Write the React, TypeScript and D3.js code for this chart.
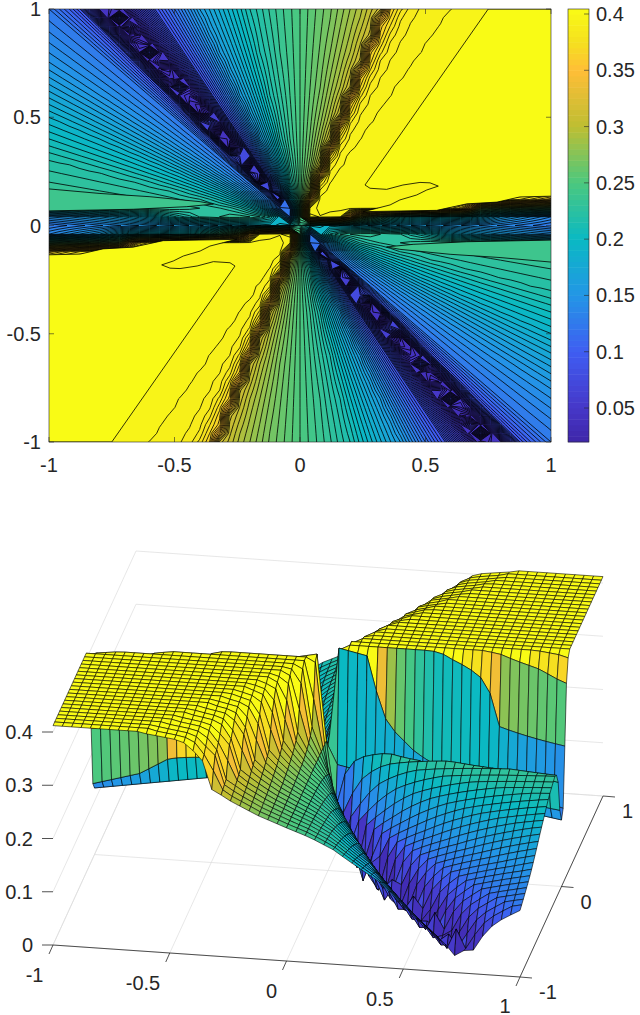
import React from 'react';
import * as d3 from 'd3';

// value read along the frame, by ray angle (deg) - the field repeats every 180 deg
const rayAngles = [0, 4.57, 5.2, 6.45, 6.8, 7.3, 7.8, 8.4, 9.5, 10.5, 58, 58.8, 65, 67.2, 68.7, 70.2, 71.5, 71.65, 74, 76, 78.7, 82.8, 90, 95.7, 101.3, 111.8, 121, 124, 125.5, 126.1, 126.5, 126.87, 127.24, 127.6, 128.2, 129.5, 130.4, 132, 135, 143, 153.4, 163, 171.5, 174.3, 175.4, 177.7, 180];
const rayValues = [0.2, 0.25, 0.26, 0.28, 0.36, 0.372, 0.38, 0.385, 0.394, 0.397, 0.397, 0.395, 0.39, 0.385, 0.375, 0.365, 0.36, 0.315, 0.305, 0.295, 0.285, 0.27, 0.25, 0.235, 0.215, 0.16, 0.082, 0.055, 0.035, 0.028, 0.06, 0.075, 0.042, 0.03, 0.036, 0.06, 0.08, 0.1, 0.125, 0.15, 0.19, 0.22, 0.235, 0.225, 0.21, 0.15, 0.13];
const centreValue = 0.235;

// the rows next to y = 0 do not follow the rays, read along |x|
const row0Knots = [0.04, 0.5, 1];
const row0Values = [0.2, 0.16, 0.125];
const row4Knots = [0.04, 0.16, 0.18, 0.22, 0.26, 0.37, 0.44, 0.67, 0.8, 1];
const row4Values = [0.397, 0.39, 0.372, 0.3, 0.27, 0.225, 0.208, 0.198, 0.165, 0.14];

const colorStops = [0.02, 0.05, 0.1, 0.15, 0.2, 0.25, 0.3, 0.35, 0.375, 0.405];
const colorValues = ['#3e26a8', '#4637c8', '#3f5df2', '#2396e6', '#0ab9c3', '#4bc87f', '#bebe32', '#ffbe37', '#f5e01f', '#f9fb15'];

const ticks2d = [-1, -0.5, 0, 0.5, 1];
const colorTicks = [0.05, 0.1, 0.15, 0.2, 0.25, 0.3, 0.35, 0.4];
const zTicks = [0, 0.1, 0.2, 0.3, 0.4];
const yTicks3d = [-1, 0, 1];

// the two contours in the flat yellow and teal areas that are not rays
const plateauOutline: [number, number][] = [
  [0.75, 1], [1.02, 1], [1.02, 0.136], [0.876, 0.132], [0.785, 0.108], [0.665, 0.1], [0.545, 0.07], [0.252, 0.064],
  [0.305, 0.079], [0.359, 0.095], [0.398, 0.118], [0.465, 0.141], [0.505, 0.164], [0.551, 0.182], [0.518, 0.197],
  [0.478, 0.199], [0.41, 0.187], [0.345, 0.167], [0.279, 0.172], [0.259, 0.187],
];
const tealOutline: [number, number][] = [
  [-1.02, 0.171], [-0.797, 0.148], [-0.598, 0.133], [-0.398, 0.11], [-0.345, 0.099], [-0.451, 0.087], [-0.664, 0.075], [-1.02, 0.067],
];

const gridAxis = d3.range(51).map(i => Math.round((-1 + 0.04 * i) * 100) / 100);
const levels = [...d3.range(0.0225, 0.09, 0.0025), ...d3.range(0.09, 0.4, 0.005)];
const barLevels = d3.range(0.02, 0.4, 0.005);

const rayScale = d3.scaleLinear<number>().domain(rayAngles).range(rayValues);
const row0Scale = d3.scaleLinear<number>().domain(row0Knots).range(row0Values);
const row4Scale = d3.scaleLinear<number>().domain(row4Knots).range(row4Values);
const color = d3.scaleLinear<string>().domain(colorStops).range(colorValues).interpolate(d3.interpolateRgb).clamp(true);

const fieldAt = (x: number, y: number) => {
  if (x === 0 && y === 0) return centreValue;
  if (y === 0) return row0Scale(Math.abs(x));
  if (x !== 0 && x * y > 0 && Math.abs(y) === 0.04) return row4Scale(Math.abs(x));
  let a = (Math.atan2(y, x) * 180) / Math.PI;
  if (a < 0) a += 180;
  return rayScale(a);
};

const field = gridAxis.map(y => gridAxis.map(x => fieldAt(x, y)));

// contour panel
const xScale = d3.scaleLinear().domain([-1, 1]).range([49, 551]);
const yScale = d3.scaleLinear().domain([-1, 1]).range([442, 9]);
const barScale = d3.scaleLinear().domain([0.05, 0.4]).range([408, 14]);
const gridToData = d3.scaleLinear().domain([0.5, 50.5]).range([-1, 1]);

const contourPath = d3.geoPath(
  d3.geoTransform({
    point(px: number, py: number) {
      (this as any).stream.point(xScale(gridToData(px)), yScale(gridToData(py)));
    },
  })
);
const bands = d3.contours().size([51, 51]).thresholds(levels)(field.flat());

const outlineLine = d3.line<[number, number]>().x(d => xScale(d[0])).y(d => yScale(d[1])).curve(d3.curveLinearClosed);
const mirrored = (pts: [number, number][]) => pts.map(d => [-d[0], -d[1]] as [number, number]);

// surface panel: orthographic view
const xAlong = d3.scaleLinear().domain([-1, 1]).range([0, 467]);
const xDrop = d3.scaleLinear().domain([-1, 1]).range([0, 32]);
const yAlong = d3.scaleLinear().domain([-1, 1]).range([0, 83]);
const yRise = d3.scaleLinear().domain([-1, 1]).range([0, 181]);
const zRise = d3.scaleLinear().domain([0, 0.4]).range([0, 213]);
// the plateau stands a little above 0.4 in the surface view
const surfaceLift = d3.scaleLinear().domain([0, 0.37, 0.397]).range([0, 0.37, 0.412]);
const project = (x: number, y: number, z: number): [number, number] => [
  53 + xAlong(x) + yAlong(y),
  945 + xDrop(x) - yRise(y) - zRise(z),
];
const segment = (a: [number, number], b: [number, number]) => `M${a[0]},${a[1]}L${b[0]},${b[1]}`;

// far rows first, so nearer cells paint over them
const quads: { d: string; fill: string }[] = [];
for (let j = gridAxis.length - 2; j >= 0; j--) {
  for (let i = 0; i < gridAxis.length - 1; i++) {
    const x0 = gridAxis[i];
    const x1 = gridAxis[i + 1];
    const y0 = gridAxis[j];
    const y1 = gridAxis[j + 1];
    const corners = [
      project(x0, y0, surfaceLift(field[j][i])),
      project(x1, y0, surfaceLift(field[j][i + 1])),
      project(x1, y1, surfaceLift(field[j + 1][i + 1])),
      project(x0, y1, surfaceLift(field[j + 1][i])),
    ];
    const c = field[j][i];
    quads.push({ d: 'M' + corners.join('L') + 'Z', fill: c >= 0.385 ? colorValues[9] : color(c) });
  }
}

const tickColor = '#262626';
const gridColor = '#dcdcdc';
const fontFamily = '"Liberation Sans", Arial, sans-serif';

export default function App() {
  return (
    <svg width={640} height={1015} style={{ position: 'absolute', left: 0, top: 0 }} fontFamily={fontFamily} fontSize={20} fill={tickColor}>
      <defs>
        <clipPath id="frame">
          <rect x={49} y={9} width={502} height={433} />
        </clipPath>
      </defs>

      <g clipPath="url(#frame)">
        <rect x={49} y={9} width={502} height={433} fill={color(0.02)} />
        {bands.map(b => (
          <path key={b.value} d={contourPath(b) || ''} fill={color(b.value + 0.0025)} stroke="#000" strokeWidth={0.8} />
        ))}
        {[plateauOutline, mirrored(plateauOutline)].map((pts, i) => (
          <path key={i} d={outlineLine(pts) || ''} fill={color(0.405)} stroke="#000" strokeWidth={0.8} />
        ))}
        {[tealOutline, mirrored(tealOutline)].map((pts, i) => (
          <path key={i} d={outlineLine(pts) || ''} fill={color(0.24)} stroke="#000" strokeWidth={0.8} />
        ))}
      </g>
      <rect x={49} y={9} width={502} height={433} fill="none" stroke={tickColor} strokeWidth={0.6} />
      {ticks2d.map(t => (
        <g key={t}>
          <line x1={xScale(t)} x2={xScale(t)} y1={442} y2={437} stroke={tickColor} strokeWidth={0.6} />
          <line x1={xScale(t)} x2={xScale(t)} y1={9} y2={14} stroke={tickColor} strokeWidth={0.6} />
          <line x1={49} x2={54} y1={yScale(t)} y2={yScale(t)} stroke={tickColor} strokeWidth={0.6} />
          <line x1={551} x2={546} y1={yScale(t)} y2={yScale(t)} stroke={tickColor} strokeWidth={0.6} />
          <text x={xScale(t)} y={472} textAnchor="middle">{t}</text>
          <text x={41} y={yScale(t) + 7} textAnchor="end">{t}</text>
        </g>
      ))}

      {[...barLevels, 0.4].map(l => {
        const top = l >= 0.4 ? 9 : barScale(Math.min(l + 0.005, 0.4));
        return <rect key={l} x={568} y={top} width={21} height={barScale(l) - top + 0.5} fill={color(l + 0.0025)} />;
      })}
      <rect x={568} y={9} width={21} height={433} fill="none" stroke={tickColor} strokeWidth={0.6} />
      {colorTicks.map(t => (
        <g key={t}>
          <line x1={589} x2={584} y1={barScale(t)} y2={barScale(t)} stroke={tickColor} strokeWidth={0.6} />
          <text x={596} y={barScale(t) + 7}>{t}</text>
        </g>
      ))}

      <g stroke={gridColor} strokeWidth={0.7} fill="none">
        {ticks2d.map(t => (
          <path key={t} d={segment(project(t, -1, 0), project(t, 1, 0))} />
        ))}
        {yTicks3d.map(t => (
          <path key={t} d={segment(project(-1, t, 0), project(1, t, 0))} />
        ))}
        {zTicks.map(t => (
          <g key={t}>
            <path d={segment(project(-1, -1, t), project(-1, 1, t))} />
            <path d={segment(project(-1, 1, t), project(1, 1, t))} />
          </g>
        ))}
      </g>

      <g stroke={tickColor} strokeWidth={0.8}>
        <path d={segment(project(-1, -1, 0), project(1, -1, 0))} />
        <path d={segment(project(1, -1, 0), project(1, 1, 0))} />
        {ticks2d.map(t => {
          const p = project(t, -1, 0);
          return <line key={t} x1={p[0]} y1={p[1]} x2={p[0] - 4} y2={p[1] + 9} />;
        })}
        {yTicks3d.map(t => {
          const p = project(1, t, 0);
          return <line key={t} x1={p[0]} y1={p[1]} x2={p[0] + 12} y2={p[1] + 1} />;
        })}
        {zTicks.map(t => {
          const p = project(-1, -1, t);
          return <line key={t} x1={p[0] - 11} y1={p[1]} x2={p[0]} y2={p[1]} />;
        })}
      </g>

      <g stroke="#000" strokeWidth={0.6}>
        {quads.map((q, i) => (
          <path key={i} d={q.d} fill={q.fill} />
        ))}
      </g>

      {ticks2d.map(t => {
        const p = project(t, -1, 0);
        return <text key={t} x={p[0] - 9.5} y={Math.min(p[1] + 37, 1013)} textAnchor="end">{t}</text>;
      })}
      {yTicks3d.map(t => {
        const p = project(1, t, 0);
        return <text key={t} x={p[0] + 19} y={p[1] + 22}>{t}</text>;
      })}
      {zTicks.map(t => {
        const p = project(-1, -1, t);
        return <text key={t} x={p[0] - 20} y={p[1] + 7} textAnchor="end">{t}</text>;
      })}
    </svg>
  );
}
